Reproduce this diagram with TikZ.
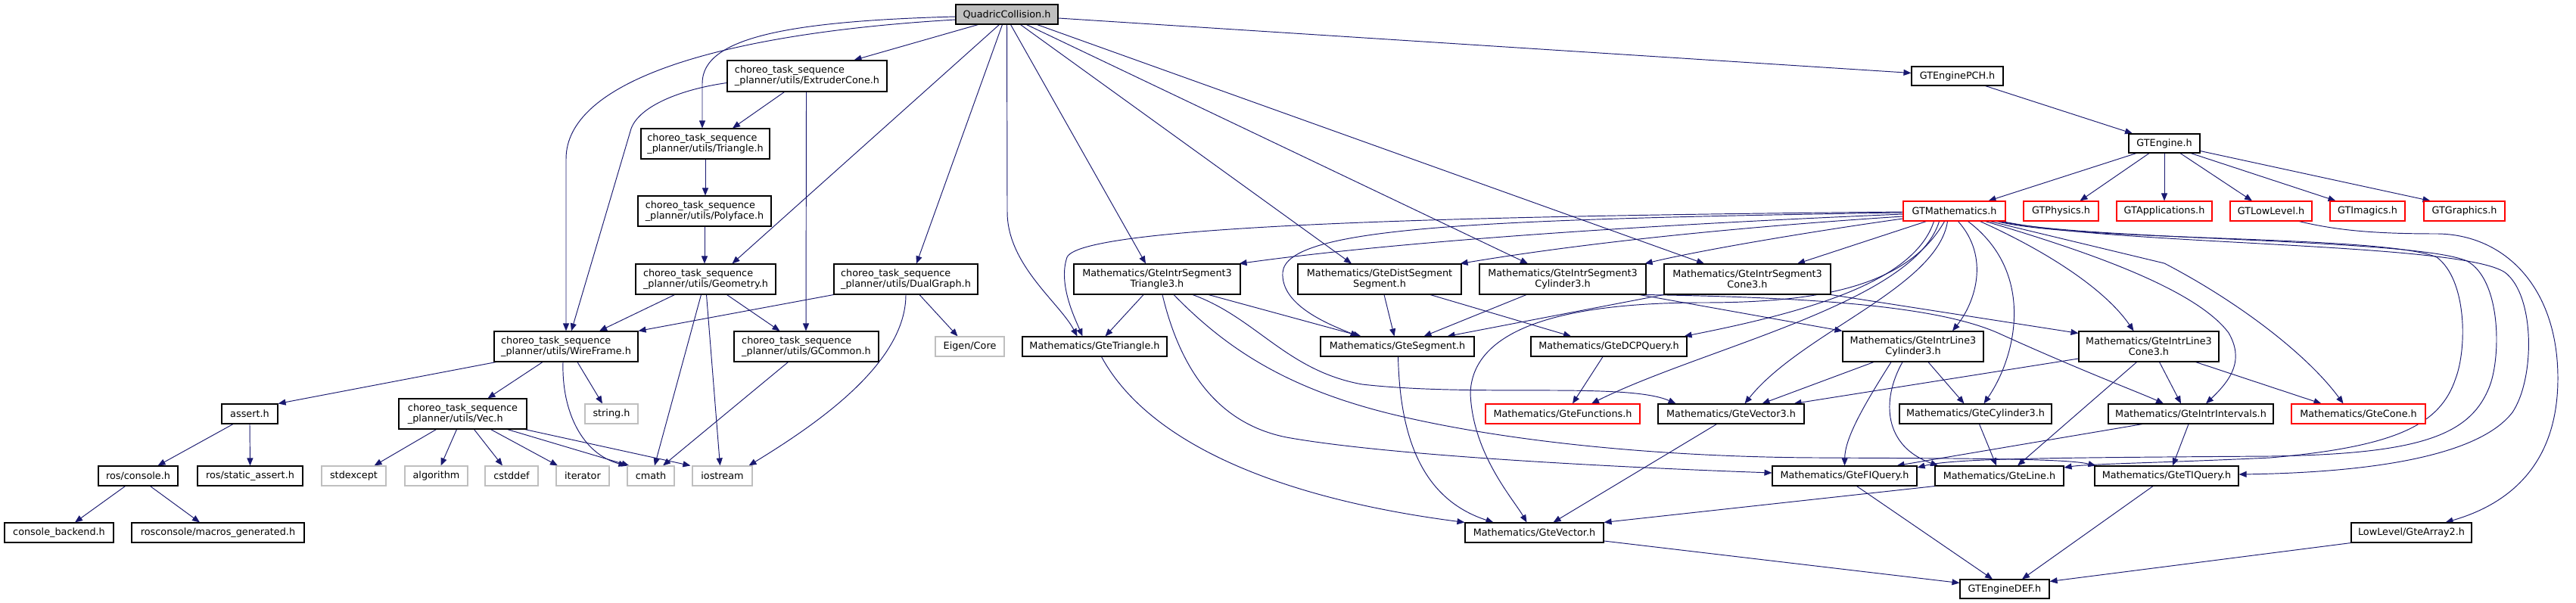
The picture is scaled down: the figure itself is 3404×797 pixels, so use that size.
\documentclass[tikz,border=0pt]{standalone}
\usepackage{fontspec}
\setmainfont{DejaVu Sans}
\usetikzlibrary{arrows.meta,backgrounds}
\definecolor{edgec}{HTML}{191970}
\definecolor{sysgray}{HTML}{BFBFBF}
\tikzset{
 box/.style={draw=black, fill=white, line width=1.1pt, inner sep=0pt, font=\fontsize{12.8}{14.2}\selectfont, align=center},
 lbox/.style={box, align=left},
 sysbox/.style={box, draw=sysgray},
 redbox/.style={box, draw=red},
 rootbox/.style={box, fill=sysgray},
 edge/.style={draw=edgec, line width=0.95pt, -{Triangle[length=10pt,width=8pt]}},
}
\newcommand{\nd}[7]{\node[#1, minimum width={#4-#3}, minimum height={#6-#5}] (#2) at ({(#3+#4)/2},{(#5+#6)/2}) {#7};}
\newcommand{\cts}{choreo\_task\_sequence\\\_planner/utils/}
\begin{document}
\begin{tikzpicture}[x=1pt,y=-1pt]
\useasboundingbox (0,0) rectangle (3404,797);
\nd{rootbox}{qc}{1263}{1398}{6}{32}{QuadricCollision.h}
\nd{lbox}{ext}{961}{1172}{80}{121}{\cts ExtruderCone.h}
\nd{lbox}{tri}{847}{1017}{170}{210}{\cts Triangle.h}
\nd{lbox}{poly}{843}{1019}{259}{299}{\cts Polyface.h}
\nd{lbox}{geom}{840}{1025}{349}{389}{\cts Geometry.h}
\nd{lbox}{dual}{1102}{1292}{349}{389}{\cts DualGraph.h}
\nd{lbox}{wire}{653}{843}{438}{478}{\cts WireFrame.h}
\nd{lbox}{gcom}{970}{1161}{438}{478}{\cts GCommon.h}
\nd{box}{assert}{293}{367}{534}{560}{assert.h}
\nd{lbox}{vec}{527}{696}{527}{567}{\cts Vec.h}
\nd{sysbox}{string}{773}{843}{534}{560}{string.h}
\nd{box}{console}{130}{235}{616}{642}{ros/console.h}
\nd{box}{sassert}{261}{400}{616}{642}{ros/static\_assert.h}
\nd{sysbox}{stdexcept}{425}{510}{616}{642}{stdexcept}
\nd{sysbox}{algorithm}{535}{618}{616}{642}{algorithm}
\nd{sysbox}{cstddef}{641}{711}{616}{642}{cstddef}
\nd{sysbox}{iterator}{735}{805}{616}{642}{iterator}
\nd{sysbox}{cmath}{829}{891}{616}{642}{cmath}
\nd{sysbox}{iostream}{915}{994}{616}{642}{iostream}
\nd{box}{cback}{6}{150}{691}{717}{console\_backend.h}
\nd{box}{macros}{174}{402}{691}{717}{rosconsole/macros\_generated.h}
\nd{box}{ist}{1419}{1639}{349}{389}{Mathematics/GteIntrSegment3\\Triangle3.h}
\nd{box}{dss}{1715}{1931}{349}{389}{Mathematics/GteDistSegment\\Segment.h}
\nd{box}{iscy}{1955}{2175}{349}{389}{Mathematics/GteIntrSegment3\\Cylinder3.h}
\nd{box}{isco}{2199}{2419}{349}{389}{Mathematics/GteIntrSegment3\\Cone3.h}
\nd{sysbox}{eigen}{1236}{1327}{445}{471}{Eigen/Core}
\nd{box}{gtri}{1351}{1542}{445}{471}{Mathematics/GteTriangle.h}
\nd{box}{gseg}{1745}{1948}{445}{471}{Mathematics/GteSegment.h}
\nd{box}{dcp}{2023}{2229}{445}{471}{Mathematics/GteDCPQuery.h}
\nd{redbox}{gfun}{1963}{2167}{534}{560}{Mathematics/GteFunctions.h}
\nd{box}{gvec3}{2191}{2384}{534}{560}{Mathematics/GteVector3.h}
\nd{box}{gvec}{1936}{2119}{691}{717}{Mathematics/GteVector.h}
\nd{box}{pch}{2526}{2647}{88}{113}{GTEnginePCH.h}
\nd{box}{engine}{2813}{2907}{177}{202}{GTEngine.h}
\nd{redbox}{gtmath}{2515}{2650}{266}{292}{GTMathematics.h}
\nd{redbox}{gtphys}{2674}{2773}{266}{292}{GTPhysics.h}
\nd{redbox}{gtapp}{2797}{2923}{266}{292}{GTApplications.h}
\nd{redbox}{gtlow}{2947}{3055}{266}{292}{GTLowLevel.h}
\nd{redbox}{gtimg}{3079}{3178}{266}{292}{GTImagics.h}
\nd{redbox}{gtgfx}{3203}{3310}{266}{292}{GTGraphics.h}
\nd{box}{il3cy}{2435}{2621}{438}{478}{Mathematics/GteIntrLine3\\Cylinder3.h}
\nd{box}{il3co}{2747}{2932}{438}{478}{Mathematics/GteIntrLine3\\Cone3.h}
\nd{box}{gcyl}{2510}{2711}{534}{560}{Mathematics/GteCylinder3.h}
\nd{box}{gint}{2786}{3004}{534}{560}{Mathematics/GteIntrIntervals.h}
\nd{redbox}{gcone}{3028}{3205}{534}{560}{Mathematics/GteCone.h}
\nd{box}{fiq}{2342}{2533}{616}{642}{Mathematics/GteFIQuery.h}
\nd{box}{gline}{2557}{2727}{616}{642}{Mathematics/GteLine.h}
\nd{box}{tiq}{2768}{2958}{616}{642}{Mathematics/GteTIQuery.h}
\nd{box}{arr2}{3107}{3266}{691}{717}{LowLevel/GteArray2.h}
\nd{box}{def}{2590}{2708}{766}{791}{GTEngineDEF.h}
\begin{scope}[on background layer]
\fill[white] (0,0) rectangle (3404,797);
% QuadricCollision
\draw[edge] ([xshift=-38]qc.south) -- ([xshift=62]ext.north);
\draw[edge] ([yshift=-3]qc.west) .. controls (1040,28) and (928,50) .. (928,110) -- ([xshift=-4]tri.north);
\draw[edge] ([yshift=-7]qc.west) .. controls (940,45) and (748,110) .. (748,210) -- (wire.north);
\draw[edge] ([xshift=-10]qc.south) -- ([xshift=35]geom.north);
\draw[edge] ([xshift=-6]qc.south) -- ([xshift=14]dual.north);
\draw[edge] (qc.south) -- (1331,280) .. controls (1331,350) and (1400,400) .. ([xshift=-23]gtri.north);
\draw[edge] ([xshift=5]qc.south) -- ([xshift=-15]ist.north);
\draw[edge] ([xshift=18]qc.south) -- ([xshift=-37]dss.north);
\draw[edge] ([xshift=26]qc.south) -- ([xshift=-46]iscy.north);
\draw[edge] ([xshift=40]qc.south) -- ([xshift=-57]isco.north);
\draw[edge] ([yshift=-5]qc.east) -- ([yshift=4]pch.west);
% choreo
\draw[edge] ([xshift=-30]ext.south) -- ([xshift=36]tri.north);
\draw[edge] ([yshift=-9]ext.west) .. controls (900,118) and (845,140) .. (834,170) -- ([xshift=7]wire.north);
\draw[edge] ([xshift=-1]ext.south) -- ([xshift=-0.5]gcom.north);
\draw[edge] (tri.south) -- ([xshift=1]poly.north);
\draw[edge] (poly.south) -- ([xshift=-1.5]geom.north);
\draw[edge] ([xshift=-41]geom.south) -- ([xshift=44]wire.north);
\draw[edge] ([xshift=-6]geom.south) -- ([xshift=5]cmath.north);
\draw[edge] ([xshift=1]geom.south) -- ([xshift=-3]iostream.north);
\draw[edge] ([xshift=28]geom.south) -- ([xshift=-35]gcom.north);
\draw[edge] (dual.south west) -- (wire.north east);
\draw[edge] ([xshift=18]dual.south) -- ([xshift=-16]eigen.north);
\draw[edge] (dual.south) .. controls (1197,480) and (1080,560) .. ([xshift=35]iostream.north);
\draw[edge] ([xshift=3]wire.south west) -- (assert.north east);
\draw[edge] ([xshift=-31]wire.south) -- ([xshift=33]vec.north);
\draw[edge] ([xshift=15]wire.south) -- ([xshift=-12]string.north);
\draw[edge] ([xshift=-4]wire.south) .. controls (742,545) and (770,600) .. ([xshift=-1]cmath.north west);
\draw[edge] ([xshift=-24]gcom.south) -- ([xshift=16]cmath.north);
\draw[edge] ([xshift=-22]assert.south) -- ([xshift=26]console.north);
\draw[edge] (assert.south) -- (sassert.north);
\draw[edge] ([xshift=-17]console.south) -- ([xshift=21]cback.north);
\draw[edge] ([xshift=16]console.south) -- ([xshift=-24]macros.north);
\draw[edge] ([xshift=-35]vec.south) -- ([xshift=27]stdexcept.north);
\draw[edge] ([xshift=-8]vec.south) -- ([xshift=6]algorithm.north);
\draw[edge] ([xshift=15]vec.south) -- ([xshift=-12]cstddef.north);
\draw[edge] ([xshift=37]vec.south) -- ([xshift=-33]iterator.north);
\draw[edge] ([xshift=59]vec.south) -- ([xshift=3]cmath.north west);
\draw[edge] ([xshift=-3]vec.south east) -- ([xshift=-2]iostream.north west);
% GTEngine
\draw[edge] ([xshift=37]pch.south) -- ([xshift=-42]engine.north);
\draw[edge] ([xshift=-37]engine.south) -- ([xshift=45]gtmath.north);
\draw[edge] ([xshift=-20]engine.south) -- ([xshift=25]gtphys.north);
\draw[edge] (engine.south) -- (gtapp.north);
\draw[edge] ([xshift=21]engine.south) -- ([xshift=-25]gtlow.north);
\draw[edge] ([xshift=35]engine.south) -- ([xshift=-42]gtimg.north);
\draw[edge] ([yshift=3]engine.south east) -- ([xshift=-45]gtgfx.north);
% GTMathematics
\draw[edge] ([yshift=-1]gtmath.west) .. controls (2000,285) and (1430,295) .. (1410,340) .. controls (1398,375) and (1420,420) .. ([xshift=-16]gtri.north);
\draw[edge] ([yshift=-2]gtmath.west) .. controls (1950,290) and (1700,300) .. (1695,360) .. controls (1692,405) and (1760,430) .. ([xshift=-52]gseg.north);
\draw[edge] ([yshift=-4]gtmath.west) .. controls (2300,292) and (1900,312) .. ([xshift=-2]ist.north east);
\draw[edge] ([yshift=-7]gtmath.west) .. controls (2300,300) and (2100,320) .. ([xshift=-2]dss.north east);
\draw[edge] ([yshift=-10]gtmath.west) .. controls (2400,305) and (2250,330) .. ([xshift=-2]iscy.north east);
\draw[edge] ([xshift=-37]gtmath.south) -- ([xshift=66]isco.north);
\draw[edge] ([xshift=-27]gtmath.south) .. controls (2530,370) and (2400,410) .. ([xshift=-4]dcp.north east);
\draw[edge] ([xshift=-20]gtmath.south) .. controls (2530,400) and (2250,460) .. ([xshift=38]gfun.north);
\draw[edge] ([xshift=-13]gtmath.south) .. controls (2520,380) and (2400,400) .. (2250,400) .. controls (2050,400) and (1945,440) .. (1943,520) .. controls (1946,600) and (2000,660) .. ([xshift=-10]gvec.north);
\draw[edge] ([xshift=-9]gtmath.south) .. controls (2560,380) and (2380,440) .. ([xshift=18]gvec3.north);
\draw[edge] ([xshift=5]gtmath.south) .. controls (2630,340) and (2610,400) .. ([xshift=52]il3cy.north);
\draw[edge] ([xshift=18]gtmath.south) .. controls (2690,360) and (2665,470) .. ([xshift=11]gcyl.north);
\draw[edge] ([xshift=34]gtmath.south) .. controls (2700,330) and (2780,380) .. ([xshift=-20]il3co.north);
\draw[edge] ([xshift=41]gtmath.south) .. controls (2750,330) and (2900,380) .. (2945,440) .. controls (2965,475) and (2950,500) .. ([xshift=20]gint.north);
\draw[edge] ([xshift=47]gtmath.south) -- (2860,348) .. controls (2960,400) and (3050,470) .. ([xshift=-20]gcone.north);
\draw[edge] ([xshift=56]gtmath.south) .. controls (2750,320) and (3150,310) .. (3220,340) .. controls (3260,370) and (3260,460) .. (3245,500) .. controls (3225,560) and (3170,590) .. (3000,605) .. controls (2850,612) and (2760,613) .. ([yshift=11]gline.east);
\draw[edge] ([xshift=59]gtmath.south) .. controls (2760,318) and (3190,315) .. (3260,345) .. controls (3305,370) and (3305,470) .. (3290,510) .. controls (3265,575) and (3200,600) .. (3000,603) .. controls (2700,605) and (2580,606) .. ([yshift=11]fiq.east);
\draw[edge] ([xshift=63]gtmath.south) .. controls (2800,325) and (3250,320) .. (3310,360) .. controls (3350,390) and (3350,500) .. (3320,545) .. controls (3270,610) and (3100,625) .. ([yshift=2]tiq.east);
\draw[edge] ([xshift=37]gtlow.south) .. controls (3090,305) and (3140,309) .. (3221,309) .. controls (3310,310) and (3380,380) .. (3380,500) .. controls (3380,610) and (3320,665) .. ([xshift=45]arr2.north);
% Mathematics
\draw[edge] ([xshift=-18]ist.south) -- ([xshift=14]gtri.north);
\draw[edge] ([xshift=68]ist.south) -- ([xshift=-48]gseg.north);
\draw[edge] ([xshift=47]ist.south) .. controls (1660,420) and (1700,490) .. (1800,508) .. controls (1950,525) and (2150,505) .. ([xshift=-73]gvec3.north);
\draw[edge] ([xshift=7]ist.south) .. controls (1560,490) and (1610,560) .. (1700,578) .. controls (1850,605) and (2200,620) .. ([yshift=4]fiq.west);
\draw[edge] ([xshift=22]ist.south) .. controls (1620,460) and (1700,515) .. (1850,550) .. controls (2000,585) and (2200,604) .. (2400,605) .. controls (2600,606) and (2730,606) .. ([xshift=2]tiq.north west);
\draw[edge] ([xshift=6]dss.south) -- ([xshift=-4]gseg.north);
\draw[edge] ([xshift=67]dss.south) -- ([xshift=-50]dcp.north);
\draw[edge] ([xshift=-48]iscy.south) -- ([xshift=35]gseg.north);
\draw[edge] ([xshift=-9]iscy.south east) -- (il3cy.north west);
\draw[edge] (iscy.south east) .. controls (2400,393) and (2560,405) .. (2640,440) .. controls (2750,490) and (2830,520) .. ([xshift=-36]gint.north);
\draw[edge] (isco.south west) -- ([xshift=66]gseg.north);
\draw[edge] (isco.south east) -- ([yshift=-3]il3co.north west);
\draw[edge] ([xshift=-8]dcp.south) -- ([xshift=13]gfun.north);
\draw[edge] ([xshift=-52]il3cy.south) -- ([xshift=41]gvec3.north);
\draw[edge] ([xshift=-29]il3cy.south) .. controls (2460,540) and (2438,580) .. (fiq.north);
\draw[edge] ([xshift=-14]il3cy.south) .. controls (2485,530) and (2490,590) .. ([xshift=-81]gline.north);
\draw[edge] ([xshift=20]il3cy.south) -- ([xshift=-15]gcyl.north);
\draw[edge] ([yshift=-16]il3co.west) -- ([xshift=83]gvec3.north);
\draw[edge] ([xshift=-16]il3co.south) -- ([xshift=24]gline.north);
\draw[edge] ([xshift=14]il3co.south) -- ([xshift=-13]gint.north);
\draw[edge] ([xshift=62]il3co.south) -- ([xshift=-49]gcone.north);
\draw[edge] ([xshift=5]gcyl.south) -- ([xshift=-4]gline.north);
\draw[edge] ([xshift=-64]gint.south) -- ([xshift=69]fiq.north);
\draw[edge] ([xshift=-3]gint.south) -- ([xshift=8]tiq.north);
\draw[edge] ([xshift=-19]gvec3.south) -- ([xshift=25]gvec.north);
\draw[edge] ([xshift=16]fiq.south) -- ([xshift=-16]def.north);
\draw[edge] (gline.south west) -- (gvec.north east);
\draw[edge] ([xshift=-18]tiq.south) -- ([xshift=23]def.north);
\draw[edge] ([yshift=-11]gvec.east) -- ([yshift=8]def.west);
\draw[edge] (arr2.south west) -- ([yshift=10]def.east);
\draw[edge] ([xshift=1]gseg.south) .. controls (1850,580) and (1880,660) .. ([xshift=-54]gvec.north);
\draw[edge] ([xshift=9]gtri.south) .. controls (1520,590) and (1700,660) .. (gvec.north west);
\end{scope}
\end{tikzpicture}
\end{document}
